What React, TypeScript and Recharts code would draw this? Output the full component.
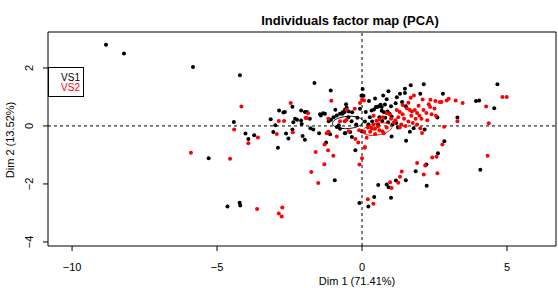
import { ScatterChart, Scatter, XAxis, YAxis, ReferenceLine, ReferenceArea } from "recharts"

// PCA individuals, group VS1 (black)
const vs1Dim1 = [
  -8.83, -8.21, -5.83, -5.29, -4.21, -4.42, -4.02, -3.92, -3.72, -2.9, -3.15, -2.99, -2.86, -2.71, -2.66, -3.06,
  -2.62, -2.54, -2.4, -2.4, -2.1, -1.97, -1.9, -2.1, -2.24, -2.05, -1.97, -1.78, -1.68, -1.48, -1.64, -1.42,
  -1.28, -1.15, -1.08, -0.92, -1.24, -0.58, -0.23, -0.55, -0.6, -0.67, -0.46, -0.34, -0.47, -0.8, -0.36, -0.16,
  -0.07, 0.02, -0.02, 0.05, 0.0, 0.27, 0.41, 0.51, 0.33, 0.13, -1.8, -1.45, -1.34, -2.31, -2.37, -2.08,
  -1.16, -1.1, -1.07, -0.98, -0.87, -0.76, -0.67, -0.59, -0.53, -0.87, -0.76, -0.59, -0.41, -0.35,
  -4.64, -4.22, -4.2, -0.94, -0.09, 0.22, 0.42, 0.56, 0.85, 0.92, 1.0, 1.17, 1.51, 1.85, 2.22, 2.23, 2.62, 2.84, 4.08,
  0.24, 0.48, 0.56, 0.64, 0.68, 0.73, 0.91, 1.48, 1.48, 1.68, 2.13, 2.01, 2.79, 1.31, 1.2, 0.79, 1.0, 1.16, 1.38,
  1.51, 3.93, 4.04, 4.67, 4.56, 3.29, 2.6, 2.16, 1.78, 1.52, 1.02,
  0.68, 0.76, 0.88, 0.95, 1.02, 0.8, 0.6, 0.7, 0.9, 1.05, 1.18, 1.24, 1.65, 0.22, 0.55, 0.35, 0.1, -0.2, 0.45, 0.85,
]
const vs1Dim2 = [
  2.8, 2.5, 2.03, -1.11, 1.75, 0.14, -0.26, -0.45, -0.32, -0.75, 0.23, 0.02, 0.53, 0.46, 0.48, -0.21,
  -0.26, -0.43, -0.12, 0.66, 0.53, 0.48, 0.48, 0.19, 0.21, -0.35, -0.48, -0.08, -0.12, -0.25, 1.48, 0.36,
  0.42, 0.16, 1.22, 0.56, -0.57, -0.25, -0.84, 0.75, 0.48, 0.42, 0.5, 0.47, 0.3, 0.02, 0.16, 0.28,
  0.59, 1.27, 1.04, 1.04, -0.19, 0.3, 0.57, 0.65, 0.53, 0.48, 0.25, 0.4, 0.44, 0.25, 0.13, 0.07,
  -0.21, -0.29, 0.21, 0.3, 0.36, 0.42, 0.47, 0.56, 0.63, -0.04, -0.1, -0.25, -0.21, -0.38,
  -2.78, -2.65, -2.74, -1.87, -2.66, -2.78, -2.45, -2.04, -2.02, -2.11, -2.48, -1.88, -1.87, -1.56, -1.33, -2.06, -0.94, -0.53, -1.51,
  0.86, 0.65, 0.67, 0.73, 0.65, 1.05, 1.2, 1.28, 1.14, 1.4, 1.44, 1.11, 1.11, 1.11, 0.99, 0.74, 0.68, 0.78, 0.83,
  0.68, 0.86, 0.88, 1.44, 0.61, 0.29, 0.29, -0.12, -0.08, -0.51, -0.36,
  0.52, 0.47, 0.5, 0.42, 0.33, 0.28, 0.3, 0.17, 0.13, 0.05, 0.1, -0.05, -0.2, 0.05, 0.05, 0.15, 0.15, 0.05, 0.95, 0.92,
]

// group VS2 (red)
const vs2Dim1 = [
  -5.9, -4.16, -4.41, -3.92, -3.59, -4.55, -2.87, -2.69, -2.94, -2.39, -2.46, -1.9, -1.16, -1.06, -1.22, -1.16,
  -0.87, -1.29, -1.17, -1.6, -0.46, -0.23, -0.13, -0.53, -0.25, -0.76, -0.6, -0.53, -0.07, 0.0, 0.08, 0.28,
  0.16, 0.09, 0.0, 0.4, -1.86, -1.95,
  -3.62, -2.75, -2.87, -2.77, -0.99, -1.3, -1.75, -1.51, -0.09, 0.1, 0.2, 0.39, 1.02, 0.97, 1.25, 1.31, 1.37,
  1.9, 2.13, 2.18, 2.42, 2.57, 2.6, 2.77, 4.33,
  0.07, 1.79, 1.68, 2.09, 2.36, 2.53, 2.68, 2.74, 2.92, 2.99, 3.23, 3.47, 4.84, 4.99, 4.28, 4.37, 3.29, 2.83, 2.01, 2.07,
  1.2, 1.3, 1.4, 1.25, 1.15, 1.55, 1.65, 1.72, 1.82, 1.9, 1.98, 2.05, 2.12, 2.22, 2.35, 1.45, 1.6, 1.75, 1.9, 1.35,
  1.5, 1.3, 1.0, 0.95, 0.85, 0.72, 0.6, 0.5, 0.4, 0.55, 0.35, 0.2, -0.1, 0.45, 0.7, 0.85, 2.4, 2.55, 2.25, 1.7,
  1.85, 1.1, 2.5, 2.3, 1.95, 1.6, 1.4, 0.3, 0.45, 0.6, 0.75,
]
const vs2Dim2 = [
  -0.92, 0.67, -0.12, -0.6, -0.4, -1.13, 0.17, 0.17, -0.28, -0.22, 0.79, 0.27, 0.25, 0.87, -0.25, -0.2,
  -0.36, -0.64, -0.84, -0.9, -0.18, -0.45, -0.57, 0.56, 0.59, 0.16, 0.16, 0.21, 0.79, 0.9, -0.21, -0.2,
  -0.41, -0.75, -1.11, 0.35, 0.44, 0.27,
  -2.86, -2.81, -3.02, -3.12, -1.03, -1.32, -1.59, -1.97, -1.33, -0.73, -2.53, -2.68, -2.14, -1.94, -1.96, -1.75, -1.57,
  -1.28, -1.67, -1.36, -1.09, -1.06, -1.63, -0.64, -1.03,
  0.88, 1.05, 0.97, 0.91, 0.9, 0.86, 0.83, 0.83, 0.88, 0.94, 0.88, 0.79, 1.0, 1.0, 0.67, 0.09, 0.16, -0.03, -0.08, -0.24,
  0.55, 0.48, 0.4, 0.3, 0.2, 0.6, 0.55, 0.5, 0.55, 0.45, 0.35, 0.25, 0.55, 0.45, 0.65, 0.25, 0.15, 0.1, 0.05, 0.05,
  0.0, -0.05, 0.25, 0.4, 0.45, 0.3, 0.22, 0.18, 0.05, -0.02, -0.1, -0.05, -0.15, -0.28, -0.18, -0.05, 0.4, 0.35, 0.2, 0.35,
  0.25, 0.12, 0.6, 0.75, 0.7, 0.8, 0.72, -0.05, -0.1, -0.15, -0.25,
]

// confidence ellipses around the group means: [cx, cy, rx, ry, angle in degrees]
const vs1Ellipse = [-0.49, 0.12, 0.53, 0.21, 4]
const vs2Ellipse = [0.53, -0.11, 0.51, 0.2, 10]

const xDomain = [-10.83, 6.69]
const yDomain = [-4.14, 3.24]
const xTicks = [-10, -5, 0, 5]
const yTicks = [-4, -2, 0, 2]

const vs1 = vs1Dim1.map((x, i) => ({ x, y: vs1Dim2[i] }))
const vs2 = vs2Dim1.map((x, i) => ({ x, y: vs2Dim2[i] }))

function ellipsePoints(e: number[]) {
  const [cx, cy, rx, ry, deg] = e
  const a = (deg * Math.PI) / 180
  const pts = []
  for (let k = 0; k <= 72; k++) {
    const t = (k / 72) * 2 * Math.PI
    const ex = rx * Math.cos(t)
    const ey = ry * Math.sin(t)
    pts.push({ x: cx + ex * Math.cos(a) - ey * Math.sin(a), y: cy + ex * Math.sin(a) + ey * Math.cos(a) })
  }
  return pts
}

const font = "'Liberation Sans', Arial, sans-serif"

const Dot = (color: string) => (props: any) => <circle cx={props.cx} cy={props.cy} r={2} fill={color} />

const fmt = (v: number) => (v < 0 ? "\u2212" + Math.abs(v) : String(v))

const XTick = (props: any) => (
  <text x={props.x} y={props.y + 18} textAnchor="middle" fontSize={11} fontFamily={font} fill="#000">
    {fmt(props.payload.value)}
  </text>
)

const YTick = (props: any) => {
  const tx = 33
  return (
    <text
      x={tx}
      y={props.y}
      textAnchor="middle"
      fontSize={11}
      fontFamily={font}
      fill="#000"
      transform={`rotate(-90, ${tx}, ${props.y})`}
    >
      {fmt(props.payload.value)}
    </text>
  )
}

export default function App() {
  return (
    <div style={{ position: "absolute", left: 0, top: 0, width: 558, height: 288, background: "#fff" }}>
      <ScatterChart width={558} height={288} margin={{ top: 32, right: 2, bottom: 12, left: 0 }}>
        <XAxis
          type="number"
          dataKey="x"
          domain={xDomain}
          ticks={xTicks}
          allowDataOverflow
          height={30}
          tickSize={5}
          axisLine={false}
          tick={<XTick />}
          stroke="#000"
        />
        <YAxis
          type="number"
          dataKey="y"
          domain={yDomain}
          ticks={yTicks}
          allowDataOverflow
          width={48}
          tickSize={5}
          axisLine={false}
          tick={<YTick />}
          stroke="#000"
        />
        <ReferenceArea
          x1={xDomain[0]}
          x2={xDomain[1]}
          y1={yDomain[0]}
          y2={yDomain[1]}
          fill="none"
          fillOpacity={0}
          stroke="#000"
          strokeWidth={1}
          strokeOpacity={1}
        />
        <ReferenceLine x={0} stroke="#000" strokeDasharray="3 3" strokeWidth={1} />
        <ReferenceLine y={0} stroke="#000" strokeDasharray="3 3" strokeWidth={1} />
        <Scatter data={vs1} shape={Dot("#000")} isAnimationActive={false} />
        <Scatter data={vs2} shape={Dot("#ff0000")} isAnimationActive={false} />
        <Scatter data={ellipsePoints(vs1Ellipse)} line={{ stroke: "#000", strokeWidth: 1 }} shape={() => null} isAnimationActive={false} />
        <Scatter data={ellipsePoints(vs2Ellipse)} line={{ stroke: "#ff0000", strokeWidth: 1 }} shape={() => null} isAnimationActive={false} />
      </ScatterChart>
      <div style={{ position: "absolute", left: 0, top: 13, width: 700, textAlign: "center", fontFamily: font, fontWeight: "bold", fontSize: 13 }}>
        Individuals factor map (PCA)
      </div>
      <div style={{ position: "absolute", left: 0, top: 275, width: 714, textAlign: "center", fontFamily: font, fontSize: 11 }}>
        Dim 1 (71.41%)
      </div>
      <div
        style={{
          position: "absolute",
          left: 10,
          top: 140,
          transform: "translate(-50%, -50%) rotate(-90deg)",
          whiteSpace: "nowrap",
          fontFamily: font,
          fontSize: 11,
        }}
      >
        Dim 2 (13.52%)
      </div>
      <div
        style={{
          position: "absolute",
          left: 48,
          top: 67,
          width: 36,
          height: 30,
          boxSizing: "border-box",
          border: "1px solid #000",
          fontFamily: font,
          fontSize: 10,
          lineHeight: "10px",
          textAlign: "right",
          paddingRight: 3,
          paddingTop: 5,
        }}
      >
        <div style={{ color: "#000" }}>VS1</div>
        <div style={{ color: "#ff0000" }}>VS2</div>
      </div>
    </div>
  )
}
